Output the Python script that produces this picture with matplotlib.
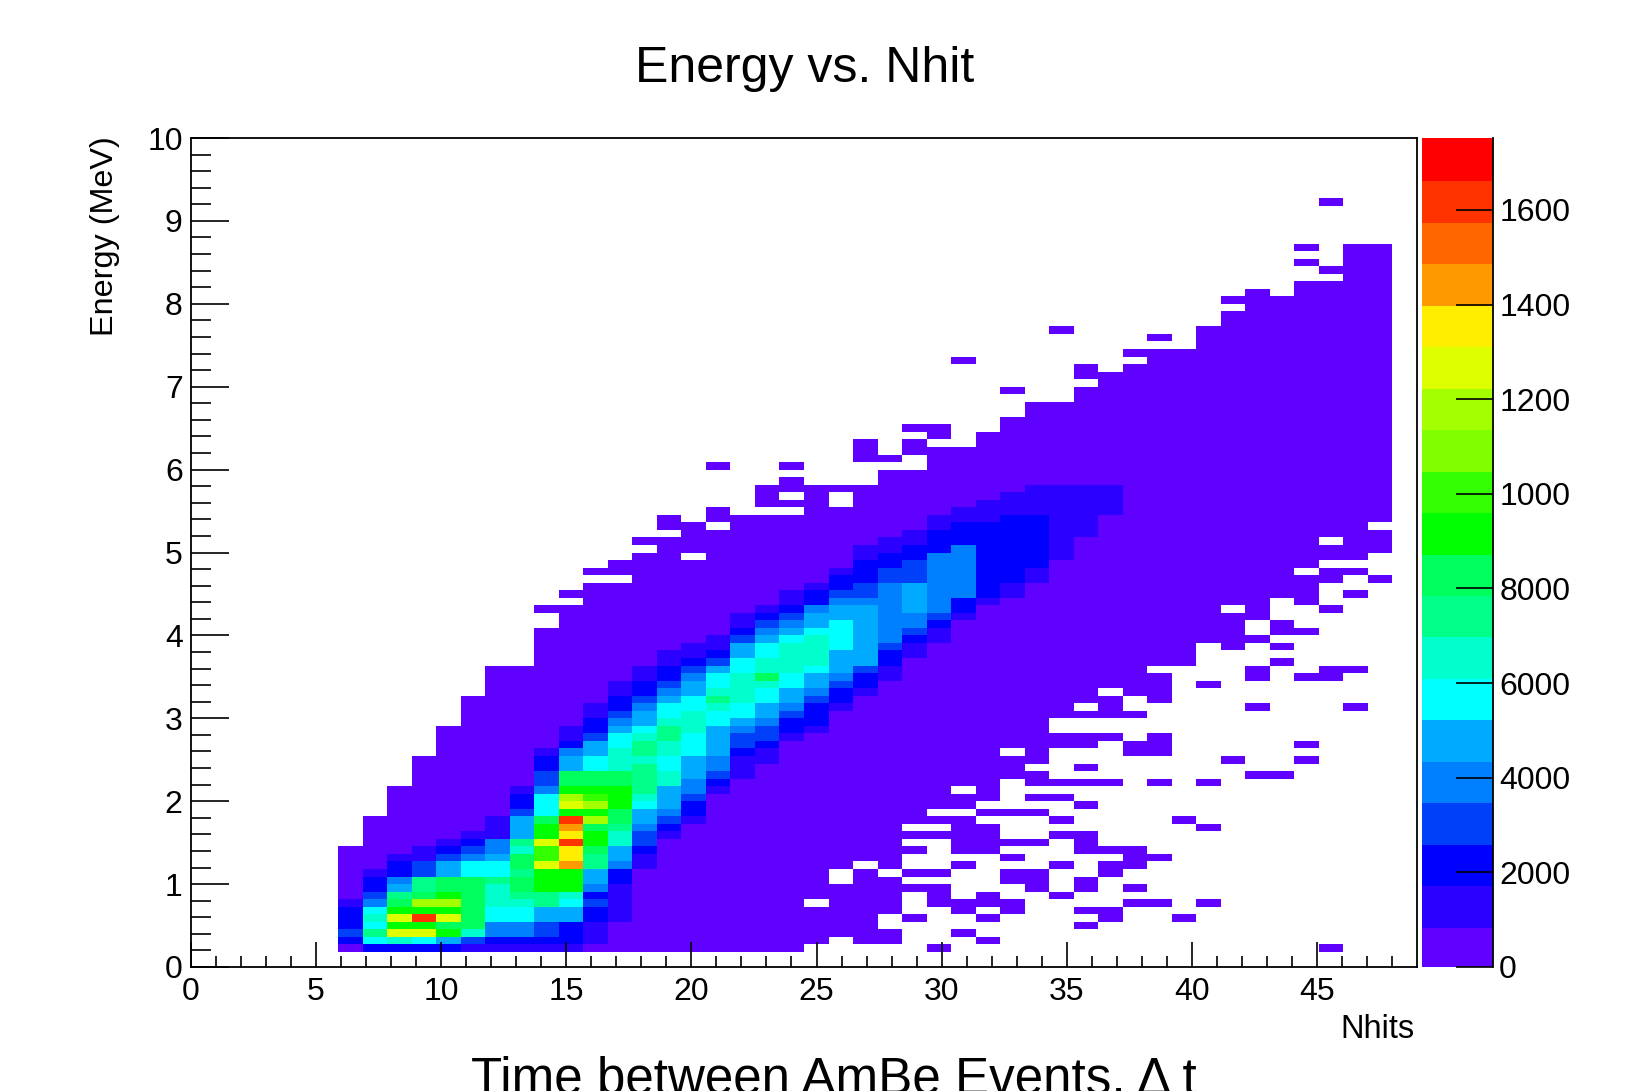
import numpy as np
import matplotlib
matplotlib.use("Agg")
import matplotlib.pyplot as plt
from matplotlib.colors import ListedColormap, BoundaryNorm

plt.rcParams["font.family"] = ["Liberation Sans", "DejaVu Sans"]

W, H = 1640, 1091

# binning: 50 bins over 0-49 Nhits, 110 bins over 0-10 MeV
n_xbins = 50
n_ybins = 110
x_max = 49.0
y_max = 10.0
z_max = 1752.0

palette = ["#6000ff", "#2c00ff", "#0000ff", "#0040f8", "#0080ff",
           "#00aaff", "#00ffff", "#00ffcc", "#00ff88", "#00ff5c",
           "#00ff00", "#33ff00", "#80ff00", "#a4ff00", "#ddff00",
           "#ffee00", "#ff9900", "#ff6600", "#ff3300", "#ff0000"]

cbar_ticks = [0, 200, 400, 600, 800, 1000, 1200, 1400, 1600]
cbar_labels = ["0", "2000", "4000", "6000", "8000", "1000", "1200", "1400", "1600"]

# occupied columns (first, last) for each energy row, starting at row 2
first_row = 2
filled_spans = [
    [(6, 24), (30, 30), (46, 46)],
    [(6, 25), (27, 28), (32, 32)],
    [(6, 28), (31, 31)],
    [(6, 27), (36, 36)],
    [(6, 27), (29, 29), (32, 32), (37, 37), (40, 40)],
    [(6, 28), (31, 31), (33, 33), (36, 37)],
    [(6, 24), (26, 28), (30, 33), (38, 39), (41, 41)],
    [(6, 28), (30, 30), (32, 32), (35, 35)],
    [(6, 30), (34, 34), (36, 36), (38, 38)],
    [(6, 25), (27, 28), (33, 34), (36, 36)],
    [(6, 25), (27, 27), (29, 30), (33, 34), (37, 37)],
    [(6, 26), (28, 28), (31, 31), (35, 35), (37, 38)],
    [(6, 28), (33, 33), (38, 39)],
    [(6, 29), (31, 32), (36, 38)],
    [(7, 28), (31, 34), (36, 36)],
    [(7, 32), (35, 36)],
    [(7, 28), (31, 32), (41, 41)],
    [(7, 31), (35, 35), (40, 40)],
    [(8, 29), (32, 34)],
    [(8, 31), (36, 36)],
    [(8, 32), (34, 35)],
    [(8, 30), (32, 32)],
    [(9, 32), (34, 37), (39, 39), (41, 41)],
    [(9, 34), (43, 44)],
    [(9, 33), (36, 36)],
    [(9, 34), (42, 42), (45, 45)],
    [(10, 32), (34, 34), (38, 39)],
    [(10, 36), (38, 39), (45, 45)],
    [(10, 37), (39, 39)],
    [(10, 34)],
    [(11, 34)],
    [(11, 38)],
    [(11, 35), (37, 37), (43, 43), (47, 47)],
    [(11, 37), (39, 39)],
    [(12, 36), (38, 39)],
    [(12, 39), (41, 41)],
    [(12, 39), (43, 43), (45, 46)],
    [(12, 38), (43, 43), (46, 47)],
    [(14, 40), (44, 44)],
    [(14, 40)],
    [(14, 40), (42, 42), (44, 44)],
    [(14, 43)],
    [(14, 42), (44, 45)],
    [(15, 42), (44, 44)],
    [(15, 43)],
    [(14, 41), (43, 43), (46, 46)],
    [(16, 43), (45, 45)],
    [(15, 45), (47, 47)],
    [(16, 45)],
    [(18, 46), (48, 48)],
    [(16, 44), (46, 47)],
    [(17, 45)],
    [(18, 19), (21, 47)],
    [(19, 48)],
    [(18, 45), (47, 48)],
    [(20, 48)],
    [(19, 20), (22, 47)],
    [(19, 19), (21, 48)],
    [(21, 21), (25, 48)],
    [(23, 25), (27, 48)],
    [(23, 23), (25, 25), (27, 48)],
    [(23, 48)],
    [(24, 24), (28, 48)],
    [(28, 48)],
    [(21, 21), (24, 24), (30, 48)],
    [(27, 28), (30, 48)],
    [(27, 27), (29, 48)],
    [(27, 27), (29, 29), (32, 48)],
    [(30, 30), (32, 48)],
    [(29, 30), (33, 48)],
    [(33, 48)],
    [(34, 48)],
    [(34, 48)],
    [(36, 48)],
    [(33, 33), (36, 48)],
    [(37, 48)],
    [(36, 48)],
    [(36, 36), (38, 48)],
    [(31, 31), (39, 48)],
    [(38, 48)],
    [(41, 48)],
    [(39, 39), (41, 48)],
    [(35, 35), (41, 48)],
    [(42, 48)],
    [(42, 48)],
    [(43, 48)],
    [(42, 48)],
    [(43, 43), (45, 48)],
    [(45, 48)],
    [(47, 48)],
    [(46, 48)],
    [(45, 45), (47, 48)],
    [(47, 48)],
    [(45, 45), (47, 48)],
    [],
    [],
    [],
    [],
    [],
    [(46, 46)],
]

# colour band of the busy cells, column by column, from the start row upwards
band_c06 = [0, 2, 3, 2, 2, 2, 1]
band_c07 = [2, 6, 8, 6, 7, 6, 4, 3, 2, 2, 1]
band_c08 = [2, 7, 14, 10, 14, 10, 9, 8, 5, 4, 2, 2, 1]
band_c09 = [2, 6, 14, 10, 18, 10, 13, 9, 8, 8, 3, 3, 1, 1]
band_c10 = [2, 5, 10, 9, 14, 10, 13, 10, 9, 9, 5, 5, 3, 2, 1]
band_c11 = [1, 3, 7, 9, 9, 9, 9, 9, 9, 9, 6, 6, 4, 3, 2, 1]
band_c12 = [1, 2, 4, 4, 6, 6, 7, 7, 7, 8, 6, 6, 5, 4, 4, 1, 1, 1]
band_c13 = [1, 2, 4, 4, 6, 6, 7, 8, 9, 9, 8, 9, 9, 7, 8, 5, 5, 5, 3, 2, 2, 1]
band_c14 = [1, 2, 3, 3, 5, 5, 8, 8, 10, 10, 10, 14, 11, 11, 14, 10, 10, 9, 6, 6, 6, 4, 3, 3, 2, 2, 1]
band_c15 = [1, 2, 2, 2, 5, 5, 6, 7, 10, 10, 10, 16, 15, 15, 18, 15, 16, 18, 10, 14, 13, 10, 9, 9, 5, 5, 4, 2, 1, 1]
band_c16 = [0, 1, 1, 1, 2, 2, 3, 2, 4, 5, 5, 8, 8, 9, 10, 10, 9, 13, 10, 13, 11, 10, 9, 9, 6, 6, 5, 5, 3, 2, 2, 1, 1]
band_c17 = [1, 1, 1, 1, 1, 2, 2, 4, 5, 5, 7, 7, 8, 9, 9, 10, 10, 10, 9, 9, 7, 7, 7, 6, 6, 5, 4, 3, 2, 2, 1, 1]
band_c18 = [1, 1, 2, 3, 3, 4, 5, 5, 6, 7, 8, 8, 8, 8, 7, 8, 8, 7, 6, 5, 5, 4, 3, 2, 2, 1, 1]
band_c19 = [1, 2, 3, 4, 5, 5, 5, 7, 7, 6, 6, 7, 7, 8, 8, 7, 6, 6, 5, 4, 3, 2, 2, 1, 1]
band_c20 = [1, 2, 2, 3, 4, 4, 5, 5, 5, 6, 6, 6, 7, 7, 7, 6, 6, 5, 5, 4, 3, 2, 1, 1]
band_c21 = [1, 2, 3, 4, 4, 5, 5, 5, 5, 6, 6, 7, 8, 7, 6, 6, 5, 3, 2, 1, 1]
band_c22 = [1, 1, 1, 2, 3, 3, 4, 5, 6, 6, 7, 7, 7, 7, 6, 6, 5, 5, 3, 2, 1, 1]
band_c23 = [1, 1, 2, 3, 3, 4, 5, 5, 6, 6, 7, 9, 7, 7, 6, 6, 5, 4, 3, 2, 1]
band_c24 = [1, 2, 2, 3, 4, 5, 5, 6, 6, 7, 7, 7, 7, 6, 5, 4, 3, 2, 1, 1]
band_c25 = [1, 2, 2, 2, 3, 4, 5, 5, 6, 7, 7, 7, 7, 6, 5, 5, 4, 2, 2, 1]
band_c26 = [1, 2, 2, 3, 4, 5, 5, 5, 6, 6, 6, 6, 5, 5, 4, 3, 2, 2, 1]
band_c27 = [1, 2, 2, 3, 5, 5, 5, 5, 5, 5, 5, 5, 4, 3, 3, 2, 2, 2, 1, 1]
band_c28 = [1, 1, 2, 2, 3, 4, 4, 4, 4, 4, 4, 4, 4, 3, 3, 2, 2, 1, 1]
band_c29 = [1, 1, 2, 3, 4, 4, 5, 5, 5, 5, 3, 3, 3, 2, 2, 1, 1]
band_c30 = [1, 1, 2, 3, 4, 4, 4, 4, 4, 4, 4, 4, 2, 2, 2, 1, 1]
band_c31 = [1, 2, 2, 4, 4, 4, 4, 4, 4, 4, 2, 2, 2, 1, 1]
band_c32 = [1, 2, 2, 2, 2, 2, 2, 2, 2, 2, 2, 1, 1, 1]
band_c33 = [1, 1, 2, 2, 2, 2, 2, 2, 2, 2, 2, 1, 1, 1]
band_c34 = [1, 1, 2, 2, 2, 2, 2, 2, 2, 1, 1, 1, 1]
band_c35 = [1, 1, 1, 1, 1, 1, 1, 1, 1, 1]
band_c36 = [1, 1, 1, 1, 1, 1, 1]
band_c37 = [1, 1, 1, 1]

# (column, start row, bands)
core_columns = [
    (6, 2, band_c06), (7, 2, band_c07), (8, 2, band_c08), (9, 2, band_c09),
    (10, 2, band_c10), (11, 2, band_c11), (12, 2, band_c12), (13, 2, band_c13),
    (14, 2, band_c14), (15, 2, band_c15), (16, 2, band_c16), (17, 6, band_c17),
    (18, 13, band_c18), (19, 17, band_c19), (20, 19, band_c20), (21, 23, band_c21),
    (22, 25, band_c22), (23, 27, band_c23), (24, 30, band_c24), (25, 31, band_c25),
    (26, 34, band_c26), (27, 36, band_c27), (28, 38, band_c28), (29, 41, band_c29),
    (30, 43, band_c30), (31, 46, band_c31), (32, 48, band_c32), (33, 49, band_c33),
    (34, 51, band_c34), (35, 54, band_c35), (36, 57, band_c36), (37, 60, band_c37),
]

# build the histogram
band_width = z_max / len(palette)
counts = np.full((n_ybins, n_xbins), np.nan)
for i, spans in enumerate(filled_spans):
    for c0, c1 in spans:
        counts[first_row + i, c0:c1 + 1] = 0.5 * band_width
for col, start, bands in core_columns:
    for i, b in enumerate(bands):
        if not np.isnan(counts[start + i, col]):
            counts[start + i, col] = (b + 0.5) * band_width

x_edges = np.linspace(0, x_max, n_xbins + 1)
y_edges = np.linspace(0, y_max, n_ybins + 1)

cmap = ListedColormap(palette)
levels = np.linspace(0, z_max, len(palette) + 1)
norm = BoundaryNorm(levels, len(palette))

fig = plt.figure(figsize=(W / 100, H / 100), dpi=100, facecolor="white")
ax = fig.add_axes([191 / W, 1 - 967 / H, (1417 - 191) / W, (967 - 138) / H])
mesh = ax.pcolormesh(x_edges, y_edges, np.ma.masked_invalid(counts), cmap=cmap, norm=norm,
                     linewidth=0, antialiased=False)

ax.set_xlim(0, x_max)
ax.set_ylim(0, y_max)
ax.set_xticks(np.arange(0, 46, 5))
ax.set_xticks(np.arange(0, 49, 1), minor=True)
ax.set_yticks(np.arange(0, 11, 1))
ax.set_yticks(np.arange(0, 10.01, 0.2), minor=True)
ax.tick_params(axis="x", which="major", direction="in", length=18, width=1.2, labelsize=23, pad=7.5)
ax.tick_params(axis="x", which="minor", direction="in", length=8, width=1.2)
ax.tick_params(axis="y", which="major", direction="in", length=27, width=1.2, labelsize=23, pad=6)
ax.tick_params(axis="y", which="minor", direction="in", length=14.5, width=1.2)
for s in ax.spines.values():
    s.set_linewidth(1.3)

# colour scale
cax = fig.add_axes([1422 / W, 1 - 967 / H, (1493 - 1422) / W, (967 - 138) / H])
cbar = fig.colorbar(mesh, cax=cax, spacing="proportional", ticks=cbar_ticks)
cbar.ax.set_yticklabels(cbar_labels)
cbar.ax.minorticks_off()
cbar.ax.tick_params(direction="in", length=27, width=1.2, labelsize=23, pad=4.5, right=True)
cbar.outline.set_visible(False)
cbar.solids.set_edgecolor("face")
cax.axvline(1, color="black", lw=1.3, clip_on=False, zorder=5)

# text
fig.text(805 / W, 1 - 82 / H, "Energy vs. Nhit", fontsize=36, ha="center", va="baseline")
fig.text(1415 / W, 1 - 1038 / H, "Nhits", fontsize=23.5, ha="right", va="baseline")
fig.text(120 / W, 1 - 136 / H, "Energy (MeV)", fontsize=23.3, rotation=90, ha="right", va="top")
fig.text(834 / W, 1 - 1093 / H, "Time between AmBe Events, \u0394 t", fontsize=36.8, ha="center", va="baseline")

fig.savefig("out.png", dpi=100)
